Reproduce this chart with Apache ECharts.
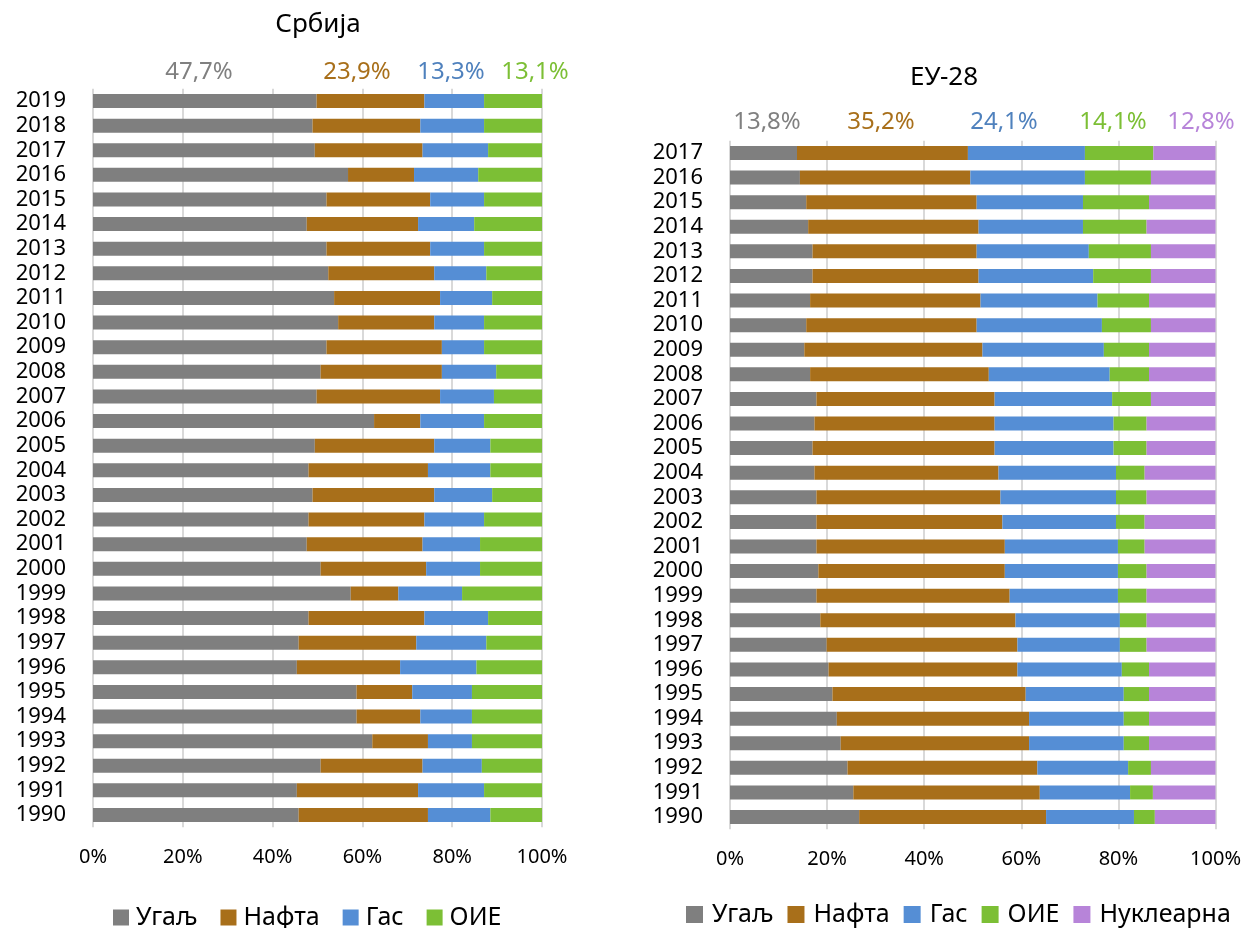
<!DOCTYPE html>
<html><head><meta charset="utf-8">
<script src="https://cdn.jsdelivr.net/npm/echarts@6/dist/echarts.min.js"></script>
<style>html,body{margin:0;padding:0;background:#fff}#c{width:1244px;height:928px}</style>
</head><body><div id="c"></div>
<script>
const seriesNames = ['Угаљ','Нафта','Гас','ОИЕ','Нуклеарна'];
const xTicks = ['0%','20%','40%','60%','80%','100%'];

const srbTitle = 'Србија';
const euTitle = 'ЕУ-28';
const srbHeader = ['47,7%','23,9%','13,3%','13,1%'];
const euHeader = ['13,8%','35,2%','24,1%','14,1%','12,8%'];

const srbYears = ['1990','1991','1992','1993','1994','1995','1996','1997','1998','1999','2000','2001','2002','2003','2004','2005','2006','2007','2008','2009','2010','2011','2012','2013','2014','2015','2016','2017','2018','2019'];
const srbCoal = [45.8,45.4,50.7,62.2,58.7,58.7,45.4,45.8,48.0,57.4,50.7,47.6,48.0,48.9,48.0,49.4,62.6,49.8,50.7,52.0,54.6,53.7,52.4,52.0,47.6,52.0,56.8,49.4,48.9,49.8];
const srbOil  = [28.8,27.0,22.7,12.4,14.2,12.4,23.0,26.2,25.8,10.6,23.5,25.8,25.8,27.1,26.6,26.6,10.3,27.5,27.0,25.7,21.4,23.6,23.6,23.1,24.8,23.1,14.7,24.0,24.0,24.0];
const srbGas  = [13.9,14.7,13.2,9.8,11.5,13.3,17.0,15.6,14.2,14.2,12.0,12.8,13.3,12.9,13.9,12.5,14.2,12.0,12.1,9.4,11.1,11.6,11.6,12.0,12.5,12.0,14.3,14.6,14.2,13.3];
const srbRes  = [11.5,12.9,13.4,15.6,15.6,15.6,14.6,12.4,12.0,17.8,13.8,13.8,12.9,11.1,11.5,11.5,12.9,10.7,10.2,12.9,12.9,11.1,12.4,12.9,15.1,12.9,14.2,12.0,12.9,12.9];

const euYears = ['1990','1991','1992','1993','1994','1995','1996','1997','1998','1999','2000','2001','2002','2003','2004','2005','2006','2007','2008','2009','2010','2011','2012','2013','2014','2015','2016','2017'];
const euCoal = [26.6,25.4,24.2,22.8,22.0,21.1,20.3,19.9,18.6,17.8,18.2,17.8,17.8,17.8,17.4,17.0,17.4,17.8,16.5,15.3,15.7,16.5,17.0,17.0,16.1,15.7,14.4,13.8];
const euOil  = [38.5,38.4,39.1,38.8,39.6,39.8,38.9,39.3,40.2,39.8,38.4,38.8,38.3,37.9,37.9,37.5,37.1,36.7,36.8,36.7,35.1,35.1,34.2,33.8,35.1,35.1,35.1,35.2];
const euGas  = [18.1,18.6,18.7,19.5,19.5,20.2,21.5,21.1,21.5,22.3,23.3,23.3,23.4,23.8,24.2,24.5,24.5,24.2,24.9,25.0,25.8,24.1,23.6,23.1,21.5,21.9,23.6,24.1];
const euRes  = [4.3,4.7,4.7,5.2,5.2,5.2,5.6,5.5,5.5,5.9,5.9,5.5,5.9,6.3,5.9,6.8,6.8,8.0,8.1,9.3,10.1,10.6,11.9,12.8,13.1,13.6,13.6,14.1];
const euNuc  = [12.5,12.9,13.3,13.7,13.7,13.7,13.7,14.2,14.2,14.2,14.2,14.6,14.6,14.2,14.6,14.2,14.2,13.3,13.7,13.7,13.3,13.7,13.3,13.3,14.2,13.7,13.3,12.8];

const colors = ['#7f7f7f','#a86f1a','#558ed5','#7cbf35','#b784d9'];
const headerColors = ['#808080','#a86f1a','#4f81bd','#7cbf35','#b784d9'];
const FONT = 'Noto Sans';

function normalize(arrs){
  const n = arrs[0].length;
  const out = arrs.map(()=>[]);
  for(let i=0;i<n;i++){
    let s=0; arrs.forEach(a=>s+=a[i]);
    arrs.forEach((a,k)=>out[k].push(a[i]/s*100));
  }
  return out;
}
const srbN = normalize([srbCoal,srbOil,srbGas,srbRes]);
const euN = normalize([euCoal,euOil,euGas,euRes,euNuc]);

function xAxis(gi){
  return {type:'value', gridIndex:gi, min:0, max:100, interval:20,
    axisLine:{show:false}, axisTick:{show:false},
    splitLine:{show:true, lineStyle:{color:'#d9d9d9', width:2}},
    axisLabel:{formatter:v=>xTicks[v/20], fontFamily:FONT, fontSize:20, color:'#000', margin:20}};
}
function yAxis(gi, cats){
  return {type:'category', gridIndex:gi, data:cats,
    axisLine:{show:false}, axisTick:{show:false},
    axisLabel:{interval:0, fontFamily:FONT, fontSize:22, color:'#000', margin:27}};
}

const series = [];
srbN.forEach((d,k)=>series.push({type:'bar', name:seriesNames[k], stack:'srb', xAxisIndex:0, yAxisIndex:0,
  barWidth:14, itemStyle:{color:colors[k]}, data:d, silent:true}));
euN.forEach((d,k)=>series.push({type:'bar', name:seriesNames[k], stack:'eu', xAxisIndex:1, yAxisIndex:1,
  barWidth:14, itemStyle:{color:colors[k]}, data:d, silent:true}));

const srbHeaderX = [199,357,451,535];
const euHeaderX = [767,881,1004,1113,1201];
const graphics = [];
srbHeader.forEach((t,i)=>graphics.push({type:'text', x:srbHeaderX[i], y:72,
  style:{text:t, fill:headerColors[i], font:'24px "Noto Sans"', textAlign:'center', textVerticalAlign:'middle'}}));
euHeader.forEach((t,i)=>graphics.push({type:'text', x:euHeaderX[i], y:122,
  style:{text:t, fill:headerColors[i], font:'24px "Noto Sans"', textAlign:'center', textVerticalAlign:'middle'}}));
graphics.push({type:'text', x:318, y:25, style:{text:srbTitle, fill:'#000', font:'26px "Noto Sans"', textAlign:'center', textVerticalAlign:'middle'}});
graphics.push({type:'text', x:944, y:78, style:{text:euTitle, fill:'#000', font:'26px "Noto Sans"', textAlign:'center', textVerticalAlign:'middle'}});

const chart = echarts.init(document.getElementById('c'), null, {renderer:'canvas'});
chart.setOption({
  animation:false,
  backgroundColor:'#fff',
  grid:[
    {left:93, top:88.7, width:449, height:738.6, containLabel:false},
    {left:730, top:140.7, width:486, height:688.6, containLabel:false}
  ],
  xAxis:[xAxis(0), xAxis(1)],
  yAxis:[yAxis(0, srbYears), yAxis(1, euYears)],
  legend:[
    {data:seriesNames.slice(0,4), left:108, top:900, icon:'rect', itemWidth:16, itemHeight:16, itemGap:23,
      itemStyle:{borderWidth:0}, textStyle:{fontFamily:FONT, fontSize:25, color:'#000', padding:[0,0,0,2]}, selectedMode:false},
    {data:seriesNames, left:681, top:897, icon:'rect', itemWidth:17, itemHeight:17, itemGap:14,
      itemStyle:{borderWidth:0}, textStyle:{fontFamily:FONT, fontSize:25, color:'#000', padding:[0,0,0,4]}, selectedMode:false}
  ],
  graphic:graphics,
  series:series
});
</script></body></html>
